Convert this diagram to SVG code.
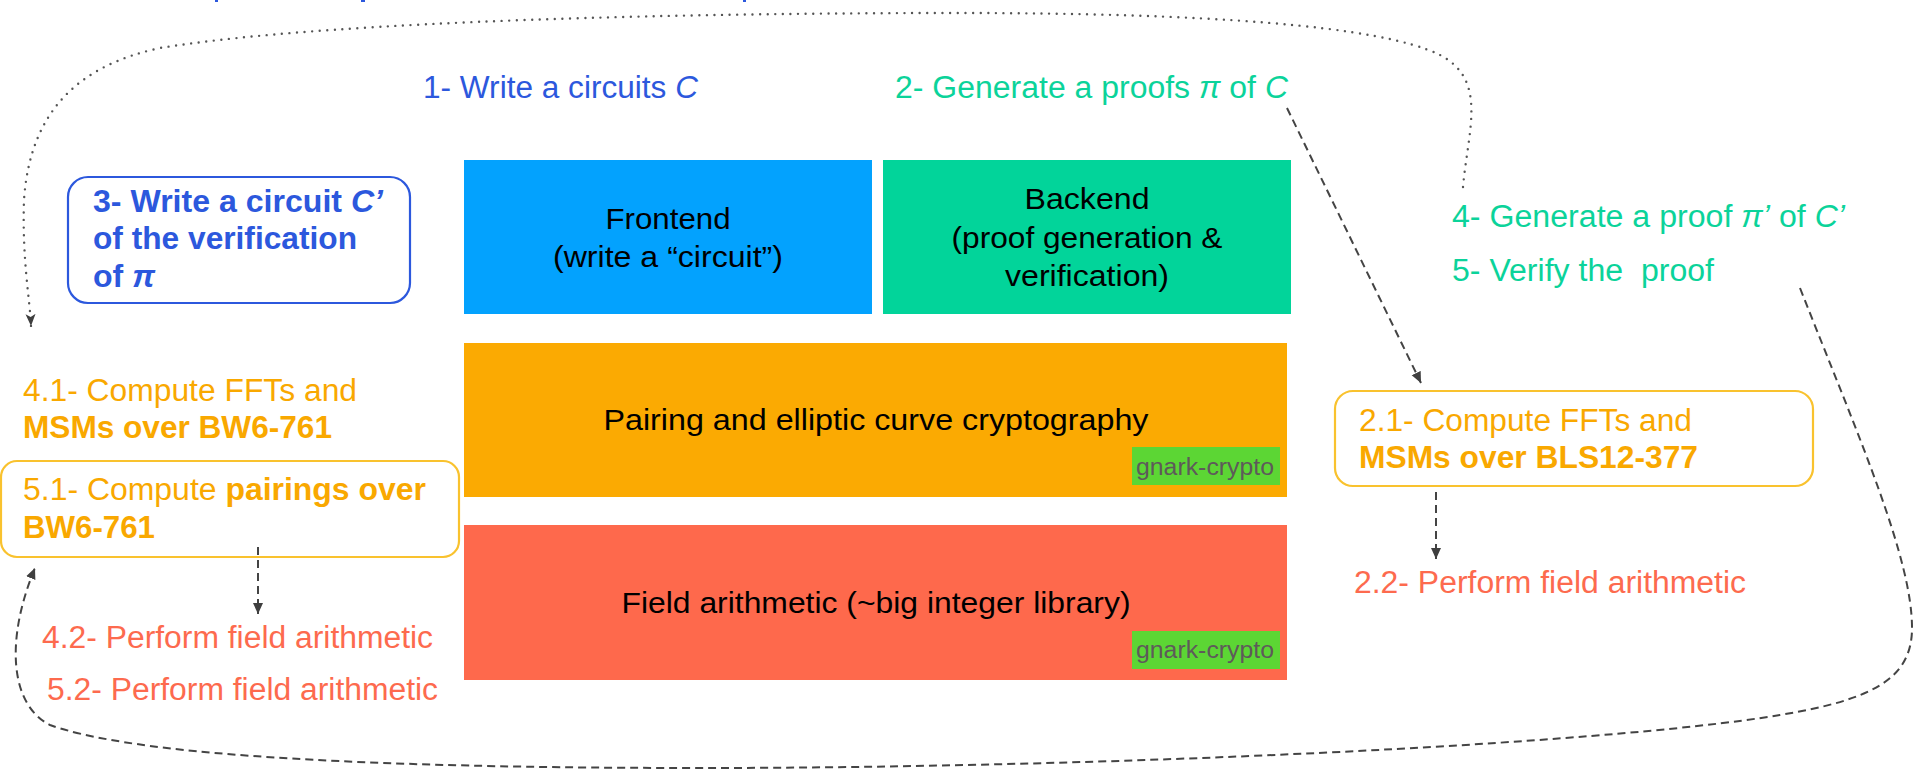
<svg xmlns="http://www.w3.org/2000/svg" width="1915" height="772" viewBox="0 0 1915 772">
<style>
  text { font-family: "Liberation Sans", Arial, Helvetica, sans-serif; }
  .lbl { font-size: 31px; }
  .blk { font-size: 30px; fill: #000; text-anchor: middle; }
  .blue { fill: #2c58dd; }
  .green { fill: #0bd39a; }
  .orange { fill: #f9a800; }
  .coral { fill: #fd6a4e; }
  .b { font-weight: bold; }
  .i { font-style: italic; }
  .badge { fill: #5cd634; }
  .badgetxt { font-size: 23px; fill: #5e5a5a; }
  .dash { fill: none; stroke: #444; stroke-width: 2; stroke-dasharray: 8 5; }
  .dot { fill: none; stroke: #555; stroke-width: 2.4; stroke-linecap: round; stroke-dasharray: 0 7.6; }
  .gold { fill: none; stroke: #f9c22e; stroke-width: 2.2; }
</style>
<defs>
  <marker id="arr" markerUnits="userSpaceOnUse" markerWidth="12" markerHeight="12" refX="11" refY="5" orient="auto">
    <path d="M0,0 L11,5 L0,10 z" fill="#3f3f3f"/>
  </marker>
  <marker id="arrN" markerUnits="userSpaceOnUse" markerWidth="13" markerHeight="12" refX="12" refY="5" orient="auto">
    <path d="M0,0 L12,5 L0,10 L3,5 z" fill="#3f3f3f"/>
  </marker>
</defs>
<rect width="1915" height="772" fill="#ffffff"/>

<!-- cut-off fragments at top edge -->
<g id="top-fragments" fill="#2c58dd">
  <rect x="215" y="0" width="3" height="2"/>
  <rect x="361" y="0" width="4" height="2"/>
  <rect x="743" y="0" width="3" height="2"/>
</g>

<g id="connectors">
  <path class="dot" d="M1463,187 C1468,130 1488,80 1440,55 C1380,25 1200,13 960,13 C600,13 300,25 160,48 C80,65 30,110 24,200 C22,260 30,300 31,326" marker-end="url(#arrN)"/>
  <path class="dash" d="M1287,108 L1421,383" marker-end="url(#arr)"/>
  <path class="dash" d="M1436,492 L1436,559" marker-end="url(#arr)"/>
  <path class="dash" d="M258,547 L258,614" marker-end="url(#arr)"/>
  <path class="dash" d="M1800,288 C1860,440 1913,560 1912,630 C1911,680 1870,700 1780,715 C1600,745 1100,768 700,768 C300,768 120,750 50,725 C10,705 5,640 35,568" marker-end="url(#arr)"/>
</g>

<g id="step1">
  <text class="lbl blue" x="423" y="98" textLength="275" lengthAdjust="spacingAndGlyphs">1- Write a circuits <tspan class="i">C</tspan></text>
</g>
<g id="step2">
  <text class="lbl green" x="895" y="98" textLength="393" lengthAdjust="spacingAndGlyphs">2- Generate a proofs <tspan class="i">π</tspan> of <tspan class="i">C</tspan></text>
</g>

<g id="step3">
  <rect x="68" y="177" width="342" height="126" rx="20" fill="none" stroke="#2c58dd" stroke-width="2.2"/>
  <text class="lbl blue b" x="93" y="212" textLength="290" lengthAdjust="spacingAndGlyphs">3- Write a circuit <tspan class="i">C’</tspan></text>
  <text class="lbl blue b" x="93" y="249" textLength="264" lengthAdjust="spacingAndGlyphs">of the verification</text>
  <text class="lbl blue b" x="93" y="287" textLength="62" lengthAdjust="spacingAndGlyphs">of <tspan class="i">π</tspan></text>
</g>

<g id="frontend">
  <rect x="464" y="160" width="408" height="154" fill="#03a2fe"/>
  <text class="blk" x="668" y="229" textLength="125" lengthAdjust="spacingAndGlyphs">Frontend</text>
  <text class="blk" x="668" y="267" textLength="230" lengthAdjust="spacingAndGlyphs">(write a “circuit”)</text>
</g>

<g id="backend">
  <rect x="883" y="160" width="408" height="154" fill="#02d49a"/>
  <text class="blk" x="1087" y="209" textLength="125" lengthAdjust="spacingAndGlyphs">Backend</text>
  <text class="blk" x="1087" y="248" textLength="271" lengthAdjust="spacingAndGlyphs">(proof generation &amp;</text>
  <text class="blk" x="1087" y="286" textLength="164" lengthAdjust="spacingAndGlyphs">verification)</text>
</g>

<g id="step4-5">
  <text class="lbl green" x="1452" y="227" textLength="393" lengthAdjust="spacingAndGlyphs">4- Generate a proof <tspan class="i">π’</tspan> of <tspan class="i">C’</tspan></text>
  <text class="lbl green" x="1452" y="281" textLength="262" lengthAdjust="spacingAndGlyphs" xml:space="preserve">5- Verify the  proof</text>
</g>

<g id="pairing">
  <rect x="464" y="343" width="823" height="154" fill="#fbaa02"/>
  <text class="blk" x="876" y="430" textLength="545" lengthAdjust="spacingAndGlyphs">Pairing and elliptic curve cryptography</text>
  <rect class="badge" x="1132" y="447" width="148" height="38"/>
  <text class="badgetxt" x="1136" y="475" textLength="138" lengthAdjust="spacingAndGlyphs">gnark-crypto</text>
</g>

<g id="field">
  <rect x="464" y="525" width="823" height="155" fill="#fe694c"/>
  <text class="blk" x="876" y="613" textLength="509" lengthAdjust="spacingAndGlyphs">Field arithmetic (~big integer library)</text>
  <rect class="badge" x="1132" y="631" width="148" height="38"/>
  <text class="badgetxt" x="1136" y="658" textLength="138" lengthAdjust="spacingAndGlyphs">gnark-crypto</text>
</g>

<g id="step4-1">
  <text class="lbl orange" x="23" y="401" textLength="334" lengthAdjust="spacingAndGlyphs">4.1- Compute FFTs and</text>
  <text class="lbl orange b" x="23" y="438" textLength="309" lengthAdjust="spacingAndGlyphs">MSMs over BW6-761</text>
</g>

<g id="step5-1">
  <rect class="gold" x="1" y="461" width="458" height="96" rx="16"/>
  <text class="lbl orange" x="23" y="500" textLength="403" lengthAdjust="spacingAndGlyphs">5.1- Compute <tspan class="b">pairings over</tspan></text>
  <text class="lbl orange b" x="23" y="538" textLength="132" lengthAdjust="spacingAndGlyphs">BW6-761</text>
</g>

<g id="step4-2">
  <text class="lbl coral" x="42" y="648" textLength="391" lengthAdjust="spacingAndGlyphs">4.2- Perform field arithmetic</text>
</g>
<g id="step5-2">
  <text class="lbl coral" x="47" y="700" textLength="391" lengthAdjust="spacingAndGlyphs">5.2- Perform field arithmetic</text>
</g>

<g id="step2-1">
  <rect class="gold" x="1335" y="391" width="478" height="95" rx="18"/>
  <text class="lbl orange" x="1359" y="431" textLength="333" lengthAdjust="spacingAndGlyphs">2.1- Compute FFTs and</text>
  <text class="lbl orange b" x="1359" y="468" textLength="339" lengthAdjust="spacingAndGlyphs">MSMs over BLS12-377</text>
</g>

<g id="step2-2">
  <text class="lbl coral" x="1354" y="593" textLength="392" lengthAdjust="spacingAndGlyphs">2.2- Perform field arithmetic</text>
</g>
</svg>
